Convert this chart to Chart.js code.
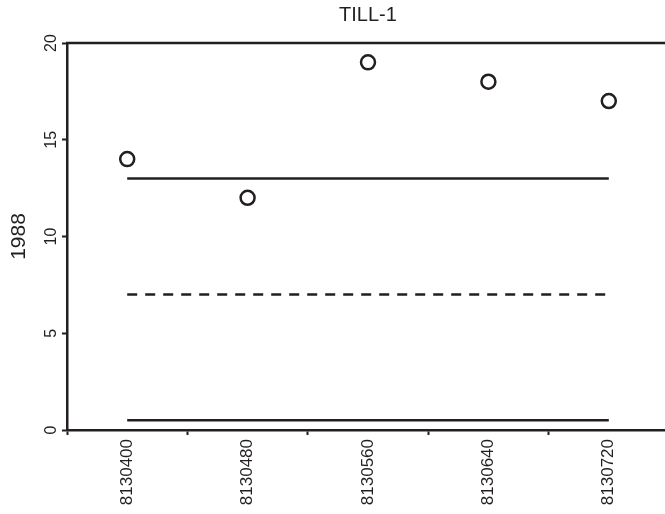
<!DOCTYPE html>
<html>
<head>
<meta charset="utf-8">
<script src="https://cdn.jsdelivr.net/npm/chart.js@4/dist/chart.umd.min.js"></script>
<style>
    body { margin: 0; overflow: hidden; background: #fff; }
    #wrap { width: 680px; height: 514px; }
</style>
</head>
<body>
<div id="wrap"><canvas id="chart" width="680" height="514"></canvas></div>
<script>
let categories = ["8130400", "8130480", "8130560", "8130640", "8130720"];
let values = [14, 12, 19, 18, 17];
let upperLine = 13;
let centerLine = 7;
let lowerLine = 0.5;
let yTicks = [0, 5, 10, 15, 20];
let chartTitle = "TILL-1";
let yTitle = "1988";

let ink = "#231f20";
let font = "'Liberation Sans', Arial, sans-serif";

let flat = v => categories.map(() => v);

// y tick labels and y title are rotated, chart.js can't rotate vertical axis labels
let sideText = {
    id: "sideText",
    afterDraw(chart) {
        let ctx = chart.ctx;
        let y = chart.scales.y;
        let area = chart.chartArea;
        ctx.save();
        ctx.fillStyle = ink;

        ctx.font = "16px " + font;
        ctx.textAlign = "center";
        ctx.textBaseline = "bottom";
        yTicks.forEach(t => {
            ctx.save();
            ctx.translate(area.left - 7, y.getPixelForValue(t));
            ctx.rotate(-Math.PI / 2);
            ctx.fillText(String(t), 0, 0);
            ctx.restore();
        });

        ctx.font = "21px " + font;
        ctx.textBaseline = "middle";
        ctx.save();
        ctx.translate(19, (area.top + area.bottom) / 2);
        ctx.rotate(-Math.PI / 2);
        ctx.fillText(yTitle, 0, 0);
        ctx.restore();

        // top frame line
        ctx.strokeStyle = ink;
        ctx.lineWidth = 2.5;
        ctx.beginPath();
        ctx.moveTo(area.left - 1, area.top);
        ctx.lineTo(chart.width, area.top);
        ctx.stroke();
        ctx.restore();
    }
};

new Chart(document.getElementById("chart"), {
    type: "line",
    data: {
        labels: categories,
        datasets: [
            {
                data: values,
                showLine: false,
                pointStyle: "circle",
                pointRadius: 7,
                pointHoverRadius: 7,
                pointBorderWidth: 2.5,
                pointBorderColor: ink,
                pointBackgroundColor: "#fff"
            },
            {
                data: flat(upperLine),
                borderColor: ink,
                borderWidth: 2.5,
                pointRadius: 0
            },
            {
                data: flat(centerLine),
                borderColor: ink,
                borderWidth: 2.5,
                borderDash: [10, 8],
                pointRadius: 0
            },
            {
                data: flat(lowerLine),
                borderColor: ink,
                borderWidth: 2.5,
                pointRadius: 0
            }
        ]
    },
    options: {
        responsive: false,
        animation: false,
        layout: { padding: { left: 67, right: 11, top: 0, bottom: 0 } },
        plugins: {
            legend: { display: false },
            tooltip: { enabled: false },
            title: {
                display: true,
                text: chartTitle,
                color: ink,
                font: { family: font, size: 20, weight: "normal" },
                padding: { top: 3, bottom: 16 }
            }
        },
        scales: {
            x: {
                type: "category",
                offset: true,
                grid: {
                    offset: true,
                    drawOnChartArea: false,
                    drawTicks: true,
                    tickLength: 5,
                    tickWidth: 2,
                    tickColor: ink
                },
                border: { display: true, color: ink, width: 2.5 },
                ticks: {
                    color: ink,
                    font: { family: font, size: 17 },
                    minRotation: 90,
                    maxRotation: 90,
                    padding: 4
                },
                afterFit: s => { s.height = 84; }
            },
            y: {
                min: 0,
                max: 20,
                afterBuildTicks: s => { s.ticks = yTicks.map(v => ({ value: v })); },
                grid: {
                    drawOnChartArea: false,
                    drawTicks: true,
                    tickLength: 5,
                    tickWidth: 2,
                    tickColor: ink
                },
                border: { display: true, color: ink, width: 2.5 },
                ticks: { display: false },
                afterFit: s => { s.width = 0; }
            }
        }
    },
    plugins: [sideText]
});
</script>
</body>
</html>
